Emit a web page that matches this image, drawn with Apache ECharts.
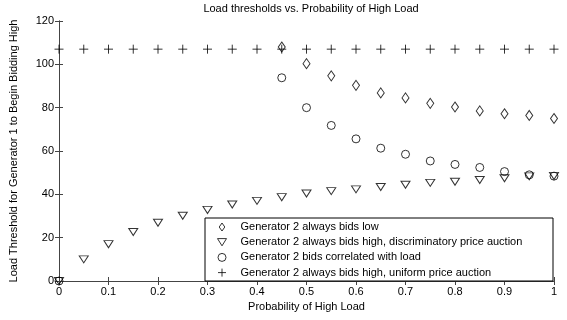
<!DOCTYPE html>
<html><head><meta charset="utf-8">
<script src="https://cdn.jsdelivr.net/npm/echarts@6/dist/echarts.min.js"></script>
<style>html,body{margin:0;padding:0;background:#fff}#c{width:567px;height:320px}</style>
</head><body><div id="c"></div>
<script>
var probAll = [0,0.05,0.1,0.15,0.2,0.25,0.3,0.35,0.4,0.45,0.5,0.55,0.6,0.65,0.7,0.75,0.8,0.85,0.9,0.95,1];
var probHigh = [0.45,0.5,0.55,0.6,0.65,0.7,0.75,0.8,0.85,0.9,0.95,1];
var lowBids = [108,100.3,94.7,90.3,86.8,84.5,82,80.3,78.5,77.2,76.4,75];
var discrim = [0,10,17,22.6,26.9,30.1,32.8,35.3,37,38.7,40.4,41.5,42.3,43.4,44.4,45.3,45.8,46.6,47.4,48.3,48.5];
var corrX = [0,0.45,0.5,0.55,0.6,0.65,0.7,0.75,0.8,0.85,0.9,0.95,1];
var corrY = [0,93.8,80,71.8,65.6,61.3,58.5,55.4,53.8,52.4,50.5,49,48.4];
var uniform = [107,107,107,107,107,107,107,107,107,107,107,107,107,107,107,107,107,107,107,107,107];
var names = ['Generator 2 always bids low','Generator 2 always bids high, discriminatory price auction','Generator 2 bids correlated with load','Generator 2 always bids high, uniform price auction'];
var xTicks = [0,0.1,0.2,0.3,0.4,0.5,0.6,0.7,0.8,0.9,1];
var yTicks = [0,20,40,60,80,100,120];

function zip(xs, ys){ return xs.map(function(x,i){return [x, ys[i]];}); }
var font = 'Liberation Sans, Arial, sans-serif';
var axisCol = '#444';
var hollow = {color:'rgba(0,0,0,0)', borderColor:'#000', borderWidth:1};
var plusPath = 'path://M0,-10L0,10M-10,0L10,0';
var triPath = 'path://M-10,-8L10,-8L0,8Z';
var diaPath = 'path://M0,-10L7,0L0,10L-7,0Z';

var chart = echarts.init(document.getElementById('c'));
var common = {min:0, axisLine:{show:true,lineStyle:{color:axisCol,width:1}}, axisTick:{show:true,inside:true,length:4,lineStyle:{color:axisCol}}, splitLine:{show:false}};
var icons = [diaPath, triPath, 'circle', plusPath];
chart.setOption({
  animation:false,
  backgroundColor:'#fff',
  title:{text:'Load thresholds vs. Probability of High Load', left:306, textAlign:'center', top:-2, textStyle:{fontFamily:font,fontSize:11,fontWeight:'normal',color:'#000'}},
  grid:{left:58,right:13,top:21,bottom:39},
  xAxis:[
    Object.assign({}, common, {type:'value', position:'bottom', max:1, interval:0.1, name:'Probability of High Load', nameLocation:'middle', nameGap:18, nameTextStyle:{fontFamily:font,fontSize:11,color:'#000'}, axisLabel:{fontFamily:font,fontSize:11,color:'#000',margin:5, formatter:function(v){return xTicks.indexOf(Math.round(v*10)/10)>=0?String(Math.round(v*10)/10):'';}}}),
    Object.assign({}, common, {type:'value', position:'top', max:1, interval:0.1, axisLabel:{show:false}})
  ],
  yAxis:[
    Object.assign({}, common, {type:'value', position:'left', max:120, interval:20, name:'Load Threshold for Generator 1 to Begin Bidding High', nameLocation:'middle', nameGap:40, nameTextStyle:{fontFamily:font,fontSize:11,color:'#000'}, axisLabel:{fontFamily:font,fontSize:11,color:'#000',margin:5, formatter:function(v){return yTicks.indexOf(v)>=0?String(v):'';}}}),
    Object.assign({}, common, {type:'value', position:'right', max:120, interval:20, axisLabel:{show:false}})
  ],
  legend:{
    orient:'vertical', left:217, top:221.5, itemWidth:9, itemHeight:8, itemGap:4.2, padding:0,
    itemStyle:{color:'rgba(0,0,0,0)', borderColor:'#000', borderWidth:1},
    textStyle:{fontFamily:font,fontSize:11,color:'#000',padding:[0,0,0,9]},
    data:names.map(function(n,i){return {name:n, icon:icons[i]};}), z:10
  },
  graphic:[{type:'rect', z:9, shape:{x:205,y:218,width:348,height:63}, style:{fill:'#fff',stroke:'#000',lineWidth:1}}],
  series:[
    {name:names[0], type:'scatter', data:zip(probHigh, lowBids), symbol:diaPath, symbolSize:[7,10], itemStyle:hollow},
    {name:names[1], type:'scatter', data:zip(probAll, discrim), symbol:triPath, symbolSize:[9,7], itemStyle:hollow},
    {name:names[2], type:'scatter', data:zip(corrX, corrY), symbol:'circle', symbolSize:8, itemStyle:hollow},
    {name:names[3], type:'scatter', data:zip(probAll, uniform), symbol:plusPath, symbolSize:9, itemStyle:{color:'rgba(0,0,0,0)', borderColor:'#000', borderWidth:1}}
  ]
});
</script></body></html>
